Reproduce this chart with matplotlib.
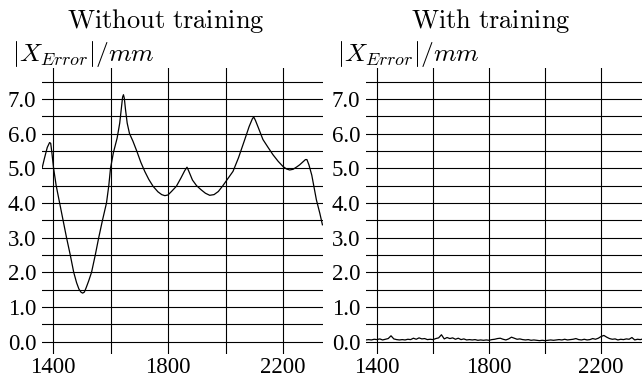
import matplotlib
matplotlib.use("Agg")
import matplotlib.pyplot as plt

plt.rcParams["mathtext.fontset"] = "cm"

# error curve without training
x_without = [1362, 1370, 1380, 1388, 1392, 1396, 1402, 1411, 1423, 1435, 1447, 1460,
             1472, 1482, 1490, 1497, 1503, 1509, 1515, 1524, 1534, 1547, 1559, 1572,
             1586, 1594, 1600, 1610, 1623, 1632, 1638, 1642, 1645, 1648, 1652, 1658,
             1666, 1678, 1692, 1705, 1719, 1733, 1748, 1765, 1778, 1789, 1800, 1812,
             1829, 1845, 1858, 1866, 1872, 1885, 1899, 1915, 1930, 1945, 1960, 1975,
             1991, 2008, 2026, 2045, 2067, 2082, 2093, 2098, 2104, 2115, 2130, 2148,
             2165, 2183, 2200, 2212, 2223, 2235, 2248, 2258, 2270, 2278, 2283, 2290,
             2300, 2316, 2328, 2337]
y_without = [5.00, 5.28, 5.60, 5.74, 5.72, 5.45, 5.00, 4.50, 4.00, 3.50, 3.00, 2.50,
             2.00, 1.70, 1.52, 1.43, 1.40, 1.43, 1.55, 1.75, 2.00, 2.50, 3.00, 3.50,
             4.00, 4.50, 5.00, 5.45, 5.87, 6.30, 6.75, 7.05, 7.12, 7.02, 6.70, 6.30,
             6.00, 5.78, 5.48, 5.18, 4.91, 4.68, 4.48, 4.32, 4.24, 4.21, 4.23, 4.33,
             4.48, 4.72, 4.93, 5.03, 4.92, 4.66, 4.50, 4.38, 4.28, 4.22, 4.24, 4.33,
             4.50, 4.70, 4.91, 5.30, 5.83, 6.20, 6.42, 6.48, 6.38, 6.15, 5.83, 5.60,
             5.39, 5.20, 5.05, 4.98, 4.95, 4.97, 5.04, 5.10, 5.19, 5.25, 5.25, 5.10,
             4.80, 4.09, 3.70, 3.37]

# error curve with training
x_with = list(range(1360, 2360, 10))
y_with = [0.05, 0.06, 0.05, 0.07, 0.06, 0.08, 0.05, 0.07, 0.09, 0.17,
          0.08, 0.06, 0.05, 0.06, 0.05, 0.07, 0.06, 0.10, 0.07, 0.11,
          0.08, 0.09, 0.06, 0.07, 0.06, 0.09, 0.11, 0.20, 0.08, 0.12,
          0.09, 0.11, 0.07, 0.10, 0.06, 0.08, 0.05, 0.06, 0.05, 0.06,
          0.04, 0.05, 0.04, 0.05, 0.04, 0.06, 0.07, 0.09, 0.10, 0.07,
          0.05, 0.08, 0.13, 0.10, 0.07, 0.08, 0.06, 0.05, 0.06, 0.04,
          0.05, 0.04, 0.03, 0.04, 0.03, 0.04, 0.05, 0.04, 0.05, 0.06,
          0.05, 0.07, 0.05, 0.06, 0.07, 0.09, 0.06, 0.05, 0.07, 0.05,
          0.06, 0.09, 0.07, 0.10, 0.15, 0.18, 0.13, 0.09, 0.07, 0.08,
          0.05, 0.07, 0.06, 0.08, 0.07, 0.12, 0.05, 0.07, 0.06, 0.08]

titles = ["Without training", "With training"]
ylabel = r"$|X_{Error}|/mm$"
xgrid = [1400, 1600, 1800, 2000, 2200]
xticks = [1400, 1800, 2200]
ygrid = [i * 0.5 for i in range(16)]
yticks = [float(i) for i in range(8)]

W, H = 642, 379
fig = plt.figure(figsize=(W / 100, H / 100), dpi=100)

panels = [
    (42, 323, (1361.7, 2339), x_without, y_without, 166, 12),
    (366, 642, (1360.7, 2346), x_with, y_with, 491, 337),
]

for i, (px0, px1, xlim, xs, ys, title_x, ylab_x) in enumerate(panels):
    ax = fig.add_axes([px0 / W, (H - 354) / H, (px1 - px0) / W, 286 / H])
    ax.set_xlim(*xlim)
    ax.set_ylim(-0.355, 7.89)
    for s in ax.spines.values():
        s.set_visible(False)
    for yv in ygrid:
        ax.axhline(yv, color="black", lw=0.8, zorder=1)
    for xv in xgrid:
        ax.axvline(xv, color="black", lw=0.8, zorder=1)
    ax.plot(xs, ys, color="black", lw=0.9, zorder=3)

    ax.set_xticks(xticks)
    ax.set_xticklabels([str(v) for v in xticks])
    ax.set_yticks(yticks)
    ax.set_yticklabels(["%.1f" % v for v in yticks])
    ax.tick_params(length=0, pad=4, labelsize=16.5)
    ax.tick_params(axis="x", pad=2)
    for lab in ax.get_xticklabels() + ax.get_yticklabels():
        lab.set_family("Liberation Serif")

    fig.text(title_x / W, 1 - 28 / H, r"$\mathrm{" + titles[i].replace(" ", r"\ ") + "}$",
             ha="center", va="baseline", fontsize=19)
    fig.text(ylab_x / W, 1 - 61 / H, ylabel, ha="left", va="baseline", fontsize=18.5)

fig.savefig("out.png", dpi=100)
